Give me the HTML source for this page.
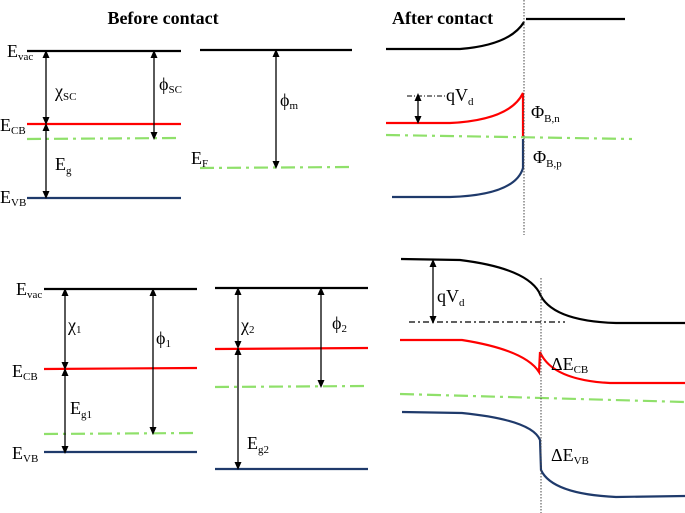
<!DOCTYPE html>
<html><head><meta charset="utf-8"><style>
html,body{margin:0;padding:0;background:#fff;}
svg{display:block;font-family:"Liberation Serif",serif;}
.t{font-size:18px;fill:#000}
.s{font-size:11px}
</style></head><body>
<svg width="685" height="513" viewBox="0 0 685 513">
<defs>
<marker id="a" markerWidth="8" markerHeight="8" refX="4" refY="4" orient="auto-start-reverse" markerUnits="userSpaceOnUse"><path d="M0,0.5 L8,4 L0,7.5 z" fill="#000"/></marker>
</defs>
<g stroke-width="2.2" fill="none">
<line x1="27" y1="51" x2="181" y2="51" stroke="#000"/>
<line x1="27" y1="124" x2="181" y2="124" stroke="#f00"/>
<line x1="27" y1="139" x2="181" y2="138" stroke="#8fe06a" stroke-dasharray="14,5,3,5"/>
<line x1="27" y1="198" x2="181" y2="198" stroke="#1f3a6b"/>
<line x1="200" y1="50" x2="352" y2="50" stroke="#000"/>
<line x1="200" y1="168" x2="352" y2="167" stroke="#8fe06a" stroke-dasharray="14,5,3,5"/>
<path d="M386,49 L460,49 Q510,45 524,22" stroke="#000"/>
<line x1="526" y1="19" x2="625" y2="19" stroke="#000"/>
<path d="M386,123 L450,123 Q510,120 523,93 L523,138" stroke="#f00"/>
<line x1="386" y1="135" x2="632" y2="139" stroke="#8fe06a" stroke-dasharray="14,5,3,5"/>
<path d="M392,197 L450,197 Q515,195 523,168 L523,139" stroke="#1f3a6b"/>
<line x1="44" y1="289" x2="197" y2="289" stroke="#000"/>
<line x1="44" y1="369" x2="197" y2="368" stroke="#f00"/>
<line x1="44" y1="434" x2="197" y2="433" stroke="#8fe06a" stroke-dasharray="14,5,3,5"/>
<line x1="44" y1="452" x2="197" y2="452" stroke="#1f3a6b"/>
<line x1="215" y1="288" x2="368" y2="288" stroke="#000"/>
<line x1="215" y1="349" x2="368" y2="348" stroke="#f00"/>
<line x1="215" y1="387" x2="368" y2="386" stroke="#8fe06a" stroke-dasharray="14,5,3,5"/>
<line x1="215" y1="469" x2="368" y2="469" stroke="#1f3a6b"/>
<path d="M401,259 L460,260 Q525,268 539,292 Q550,321 616,323 L685,323" stroke="#000"/>
<path d="M400,340 L462,340 Q525,350 539,372 L540,352 Q552,380 610,383 L685,383" stroke="#f00"/>
<line x1="400" y1="394" x2="685" y2="402" stroke="#8fe06a" stroke-dasharray="14,5,3,5"/>
<path d="M402,412 L462,413 Q532,420 540,440 L541,470 Q552,494 616,497 L685,496" stroke="#1f3a6b"/>
</g>
<g stroke="#000" stroke-width="1.3" marker-start="url(#a)" marker-end="url(#a)">
<line x1="46" y1="54" x2="46" y2="121"/>
<line x1="46" y1="127" x2="46" y2="195"/>
<line x1="154" y1="54" x2="154" y2="136"/>
<line x1="276" y1="53" x2="276" y2="165"/>
<line x1="418" y1="97" x2="418" y2="120"/>
<line x1="65" y1="292" x2="65" y2="366"/>
<line x1="65" y1="372" x2="65" y2="450"/>
<line x1="153" y1="292" x2="153" y2="431"/>
<line x1="238" y1="291" x2="238" y2="345"/>
<line x1="238" y1="351" x2="238" y2="466"/>
<line x1="321" y1="291" x2="321" y2="384"/>
<line x1="433" y1="263" x2="433" y2="320"/>
</g>
<g stroke="#000" stroke-width="1" fill="none">
<line x1="407" y1="96" x2="446" y2="96" stroke-dasharray="5,2,1,2"/>
<line x1="409" y1="322" x2="565" y2="322" stroke-dasharray="6,3,2,3" stroke-width="1.2"/>
<line x1="524" y1="0" x2="524" y2="235" stroke-dasharray="1.5,1.5" stroke="#444"/>
<line x1="541" y1="278" x2="541" y2="513" stroke-dasharray="1.5,1.5" stroke="#444"/>
</g>
<text x="163" y="24" text-anchor="middle" font-weight="bold" font-size="18">Before contact</text>
<text x="392" y="24" font-weight="bold" font-size="18">After contact</text>
<text class="t" x="7" y="57">E<tspan class="s" dy="3">vac</tspan></text>
<text class="t" x="55" y="97">χ<tspan class="s" dy="3">SC</tspan></text>
<text class="t" x="159" y="90">ϕ<tspan class="s" dy="3">SC</tspan></text>
<text class="t" x="0" y="131">E<tspan class="s" dy="3">CB</tspan></text>
<text class="t" x="55" y="170">E<tspan class="s" dy="4">g</tspan></text>
<text class="t" x="0" y="203">E<tspan class="s" dy="3">VB</tspan></text>
<text class="t" x="280" y="106">ϕ<tspan class="s" dy="3">m</tspan></text>
<text class="t" x="191" y="164">E<tspan class="s" dy="3">F</tspan></text>
<text class="t" x="446" y="101">qV<tspan class="s" dy="4">d</tspan></text>
<text class="t" x="531" y="118">Φ<tspan class="s" dy="4">B,n</tspan></text>
<text class="t" x="533" y="163">Φ<tspan class="s" dy="4">B,p</tspan></text>
<text class="t" x="16" y="295">E<tspan class="s" dy="3">vac</tspan></text>
<text class="t" x="68" y="331">χ<tspan class="s" dy="2">1</tspan></text>
<text class="t" x="156" y="344">ϕ<tspan class="s" dy="3">1</tspan></text>
<text class="t" x="12" y="377">E<tspan class="s" dy="3">CB</tspan></text>
<text class="t" x="70" y="414">E<tspan class="s" dy="4">g1</tspan></text>
<text class="t" x="12" y="459">E<tspan class="s" dy="3">VB</tspan></text>
<text class="t" x="241" y="331">χ<tspan class="s" dy="2">2</tspan></text>
<text class="t" x="332" y="329">ϕ<tspan class="s" dy="3">2</tspan></text>
<text class="t" x="247" y="449">E<tspan class="s" dy="4">g2</tspan></text>
<text class="t" x="437" y="302">qV<tspan class="s" dy="4">d</tspan></text>
<text class="t" x="551" y="370">ΔE<tspan class="s" dy="3">CB</tspan></text>
<text class="t" x="551" y="461">ΔE<tspan class="s" dy="3">VB</tspan></text>
</svg>
</body></html>
